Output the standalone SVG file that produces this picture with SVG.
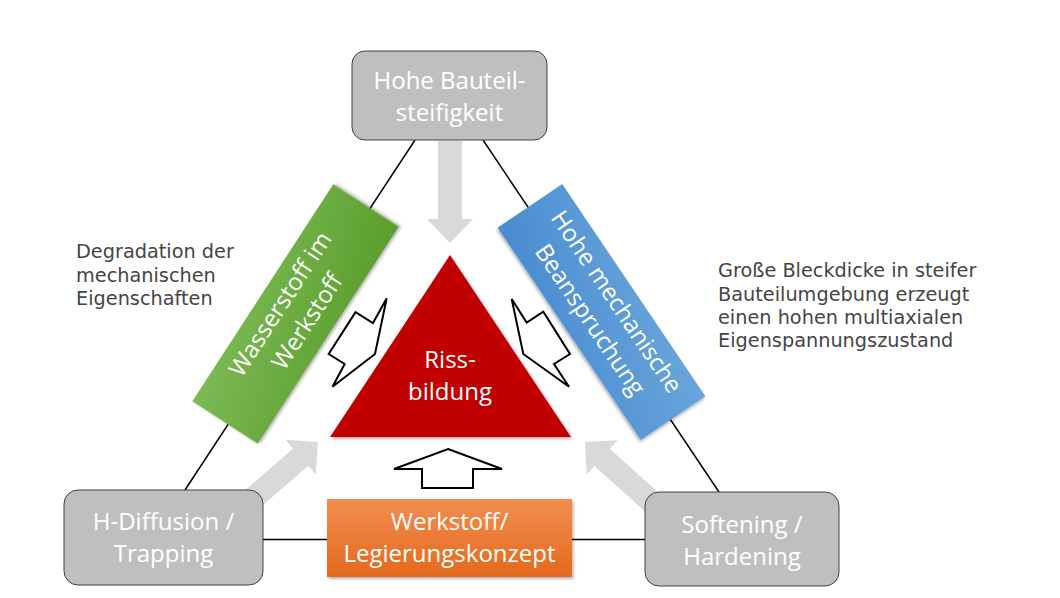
<svg xmlns="http://www.w3.org/2000/svg" width="1060" height="598" viewBox="0 0 1060 598">
<defs>
  <linearGradient id="gGreen" x1="0" y1="0" x2="1" y2="1">
    <stop offset="0" stop-color="#7dba56"/>
    <stop offset="1" stop-color="#5a9e2c"/>
  </linearGradient>
  <linearGradient id="gBlue" x1="1" y1="0" x2="0" y2="1">
    <stop offset="0" stop-color="#6aa6dc"/>
    <stop offset="1" stop-color="#4a8bcf"/>
  </linearGradient>
  <linearGradient id="gOrange" x1="0" y1="0" x2="0" y2="1">
    <stop offset="0" stop-color="#f28e52"/>
    <stop offset="1" stop-color="#e4691c"/>
  </linearGradient>
  <filter id="shadow" x="-20%" y="-20%" width="140%" height="140%">
    <feDropShadow dx="1.5" dy="2" stdDeviation="1.5" flood-color="#000" flood-opacity="0.3"/>
  </filter>
  <style>
    .conn { stroke: #000; stroke-width: 1.5; fill: none; }
    .garrow { fill: #d9d9d9; stroke: none; }
    .oarrow { fill: #fff; stroke: #000; stroke-width: 2; stroke-linejoin: miter; }
    .gbox { fill: #bfbfbf; stroke: #404040; stroke-width: 1; }
    .wt { font-family: "Open Sans", "Noto Sans", sans-serif; font-size: 24px; fill: #fff; text-anchor: middle; }
    .side { font-family: "DejaVu Sans", Verdana, sans-serif; font-size: 19.3px; fill: #454545; }
  </style>
</defs>

<g id="connectors">
  <line class="conn" x1="415" y1="140" x2="185" y2="490"/>
  <line class="conn" x1="483" y1="140" x2="719" y2="492"/>
  <line class="conn" x1="263" y1="539.5" x2="327" y2="539.5"/>
  <line class="conn" x1="572" y1="539.5" x2="645" y2="539.5"/>
</g>

<g id="gray-arrows">
  <polygon class="garrow" points="438,141 462,141 462,219 473,219 450,243 427,219 438,219"/>
  <polygon class="garrow" transform="translate(318,442) rotate(-41)" points="0,0 -23,-23 -23,-11.5 -125,-11.5 -125,11.5 -23,11.5 -23,23"/>
  <polygon class="garrow" transform="translate(585,442) rotate(-138)" points="0,0 -23,-23 -23,-11.5 -125,-11.5 -125,11.5 -23,11.5 -23,23"/>
</g>

<g id="node-top">
  <rect class="gbox" x="352" y="51" width="195" height="89" rx="13"/>
  <text class="wt" x="449.5" y="89">Hohe Bauteil-</text>
  <text class="wt" x="449.5" y="121">steifigkeit</text>
</g>

<g id="node-hdiffusion">
  <rect class="gbox" x="64" y="490" width="199" height="95" rx="14"/>
  <text class="wt" x="163.5" y="530">H-Diffusion /</text>
  <text class="wt" x="163.5" y="562">Trapping</text>
</g>

<g id="node-softening">
  <rect class="gbox" x="645" y="492" width="194" height="94" rx="14"/>
  <text class="wt" x="742" y="533">Softening /</text>
  <text class="wt" x="742" y="565">Hardening</text>
</g>

<g id="node-werkstoff">
  <rect x="327" y="499" width="245" height="78" fill="url(#gOrange)" filter="url(#shadow)"/>
  <text class="wt" x="449.5" y="530">Werkstoff/</text>
  <text class="wt" x="449.5" y="562">Legierungskonzept</text>
</g>

<g id="node-wasserstoff" transform="translate(295.5,314) rotate(-57)">
  <rect x="-129.5" y="-39" width="259" height="78" fill="url(#gGreen)" filter="url(#shadow)"/>
  <text class="wt" x="0" y="-10">Wasserstoff im</text>
  <text class="wt" x="0" y="22">Werkstoff</text>
</g>

<g id="node-beanspruchung" transform="translate(601.5,312) rotate(56)">
  <rect x="-128" y="-39" width="256" height="78" fill="url(#gBlue)" filter="url(#shadow)"/>
  <text class="wt" x="0" y="-10">Hohe mechanische</text>
  <text class="wt" x="0" y="22">Beanspruchung</text>
</g>

<g id="node-rissbildung">
  <polygon points="450,255 571,437 330,437" fill="#c00000" filter="url(#shadow)"/>
  <text class="wt" x="450" y="368">Riss-</text>
  <text class="wt" x="450" y="400">bildung</text>
</g>

<g id="outline-arrows">
  <polygon class="oarrow" points="386.7,298.3 373,323 355.5,312.2 328.7,354 344.7,364 332.5,386.7 375,354"/>
  <polygon class="oarrow" points="511.7,299 526.7,322.5 543.3,311.7 570,354 554,364 569,386.7 523.3,354"/>
  <polygon class="oarrow" points="448,449 502,469 473,469 473,488 422,488 422,469 394,469"/>
</g>

<g id="label-left">
  <text class="side" x="76" y="258">Degradation der</text>
  <text class="side" x="76" y="282">mechanischen</text>
  <text class="side" x="76" y="305">Eigenschaften</text>
</g>

<g id="label-right">
  <text class="side" x="718" y="277">Große Bleckdicke in steifer</text>
  <text class="side" x="718" y="301">Bauteilumgebung erzeugt</text>
  <text class="side" x="718" y="324">einen hohen multiaxialen</text>
  <text class="side" x="718" y="347">Eigenspannungszustand</text>
</g>
</svg>
